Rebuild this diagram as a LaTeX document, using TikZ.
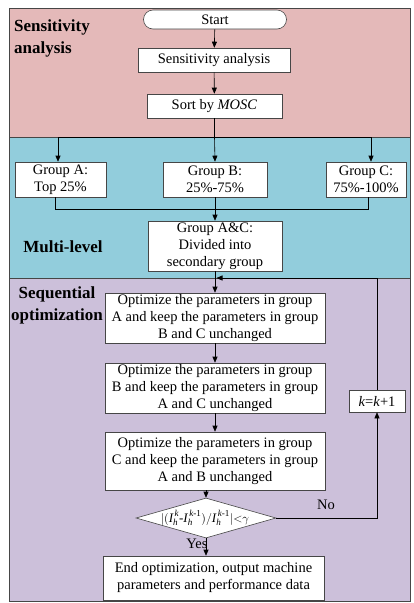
\documentclass[tikz,border=0pt]{standalone}
\usepackage{amsmath}
\usepackage{fontspec}
\setmainfont{Liberation Serif}
\usetikzlibrary{shapes.geometric,arrows.meta,calc}
\definecolor{regpink}{RGB}{228,185,185}
\definecolor{regblue}{RGB}{146,205,220}
\definecolor{regpurple}{RGB}{204,192,218}
\definecolor{edge}{RGB}{70,70,70}
\newcommand{\ivar}[1]{\text{\itshape #1}}
\newcommand{\Ihk}[1]{\ivar{I}_{\ivar{h}}^{\,#1}}
\begin{document}
\begin{tikzpicture}[x=1pt,y=-1pt,
  font=\fontsize{14.5}{17}\selectfont,
  box/.style={draw=edge, fill=white, inner sep=0pt, align=center, line width=0.6pt},
  arr/.style={-{Triangle[length=6pt,width=5pt]}, draw=black, line width=0.6pt},
  ln/.style={draw=black, line width=0.6pt},
  lbl/.style={font=\fontsize{17}{22}\selectfont\bfseries, align=center, inner sep=0pt}]
\useasboundingbox (0,0) rectangle (413,603);
% regions
\fill[regpink] (9,8) rectangle (410,137);
\fill[regblue] (9,137) rectangle (410,278);
\fill[regpurple] (9,278) rectangle (410,601.5);
\draw[edge, line width=0.6pt] (9,137) -- (410,137);
\draw[edge, line width=0.6pt] (9,278) -- (410,278);
\draw[edge, line width=0.8pt] (9,8) rectangle (410,601.5);
% region labels
\node[lbl, align=left, anchor=west] (lsa) at (14,38) {Sensitivity\\analysis};
\node[lbl] (lml) at (63,247) {Multi-level};
\node[lbl] (lso) at (57,305) {Sequential\\optimization};
% nodes
\node[box, rounded corners=9.5pt, minimum width=143pt, minimum height=19pt] (start) at (215,19.5) {Start};
\node[box, minimum width=152pt, minimum height=24pt] (sa) at (214,60) {Sensitivity analysis};
\node[box, minimum width=135pt, minimum height=24pt] (sort) at (214.5,106) {Sort by \textit{MOSC}};
\node[box, minimum width=91pt, minimum height=35pt] (gA) at (60.5,179.5) {Group A:\\Top 25\%};
\node[box, minimum width=104pt, minimum height=35pt] (gB) at (215,179.5) {Group B:\\25\%-75\%};
\node[box, minimum width=80pt, minimum height=35pt] (gC) at (366,179.5) {Group C:\\75\%-100\%};
\node[box, minimum width=134pt, minimum height=50pt] (gAC) at (215,246) {Group A\&C:\\Divided into\\secondary group};
\node[box, minimum width=220pt, minimum height=50pt] (o1) at (215,318) {Optimize the parameters in group\\A and keep the parameters in group\\B and C unchanged};
\node[box, minimum width=220pt, minimum height=50pt] (o2) at (215,388) {Optimize the parameters in group\\B and keep the parameters in group\\A and C unchanged};
\node[box, minimum width=220pt, minimum height=58pt] (o3) at (215,461) {Optimize the parameters in group\\C and keep the parameters in group\\A and B unchanged};
\node[diamond, draw=edge, fill=white, line width=0.6pt, inner sep=0pt, minimum width=140pt, minimum height=40pt] (d) at (206,518) {};
\node[inner sep=0pt, font=\fontsize{13}{15}\selectfont] (dt) at ([xshift=-1pt]d.center) {$|(\Ihk{\ivar{k}}\text{-}\Ihk{\ivar{k}\text{-1}})/\Ihk{\ivar{k}\text{-1}}|{<}\gamma$};
\node[box, minimum width=221pt, minimum height=44pt] (end) at (213.5,578) {End optimization, output machine\\parameters and performance data};
\node[box, minimum width=56pt, minimum height=22pt] (kk) at (377,401) {\textit{k}=\textit{k}+1};
\node[inner sep=0pt] (no) at (326,505) {No};
\node[inner sep=0pt] (yes) at (197,544) {Yes};
% connectors
\draw[arr] (start) -- (sa);
\draw[arr] (sa) -- (sort);
\coordinate (sp) at (sort.south |- 0,137);
\draw[ln] (sort.south) -- (sp);
\draw[arr] (sp) -| ([xshift=-2.5pt]gA.north);
\draw[arr] (sp) -- (gB.north);
\draw[arr] (sp) -| ([xshift=5pt]gC.north);
\coordinate (mp) at (gB.south |- 0,209);
\draw[ln] ([xshift=-5.5pt]gA.south) |- (mp);
\draw[ln] ([xshift=2pt]gC.south) |- (mp);
\draw[arr] (gB.south) -- (gAC.north);
\draw[arr] (gAC.south) -- (o1.north);
\draw[arr] (o1) -- (o2);
\draw[arr] (o2) -- (o3);
\draw[arr] (o3.south -| d.north) -- (d.north);
\draw[arr] (d.south) -- (d.south |- end.north);
\draw[arr] (d.east) -| (kk.south);
\coordinate (fb) at (gAC.south |- 0,278);
\draw[arr] (kk.north) |- ([xshift=1.5pt]fb);
\end{tikzpicture}
\end{document}
